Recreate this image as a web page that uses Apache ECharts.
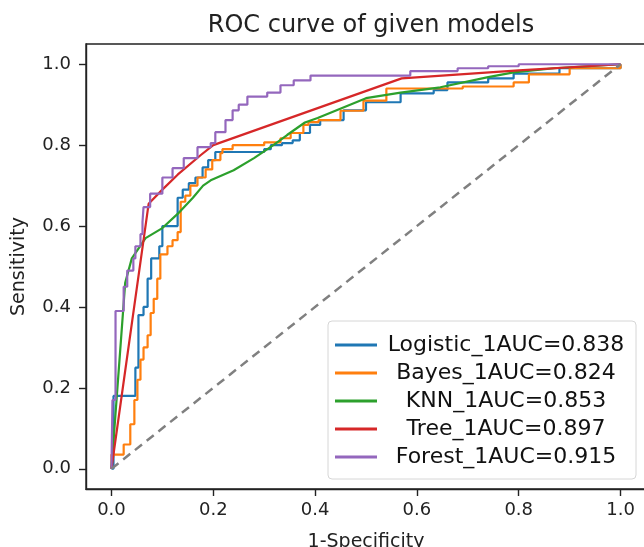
<!DOCTYPE html>
<html>
<head>
<meta charset="utf-8">
<script src="https://cdn.jsdelivr.net/npm/echarts@6/dist/echarts.min.js"></script>
<style>
  html, body { margin: 0; padding: 0; background: #fff; }
  #roc-chart { width: 644px; height: 547px; }
</style>
</head>
<body>
<div id="roc-chart"></div>
<script>
// model names and AUC shown in the legend
var models = ["Logistic_1", "Bayes_1", "KNN_1", "Tree_1", "Forest_1"];
var aucs = [0.838, 0.824, 0.853, 0.897, 0.915];
var tickValues = [0, 0.2, 0.4, 0.6, 0.8, 1.0];

// [fpr, tpr] points (staircases: top of each riser)
var logisticRoc = [
  [0, 0], [0.004, 0.18], [0.047, 0.25], [0.053, 0.38], [0.063, 0.40], [0.071, 0.47],
  [0.078, 0.52], [0.094, 0.55], [0.1, 0.6], [0.13, 0.67], [0.14, 0.69], [0.152, 0.706],
  [0.165, 0.72], [0.179, 0.745], [0.19, 0.763], [0.204, 0.783], [0.3, 0.79], [0.313, 0.80],
  [0.335, 0.805], [0.356, 0.812], [0.37, 0.83], [0.39, 0.85], [0.41, 0.862], [0.456, 0.886],
  [0.5, 0.906], [0.568, 0.928], [0.633, 0.936], [0.66, 0.955], [0.74, 0.965], [0.79, 0.977],
  [0.88, 0.99], [1, 1]
];
var bayesRoc = [
  [0, 0], [0, 0.035], [0.024, 0.06], [0.037, 0.11], [0.045, 0.17], [0.051, 0.22],
  [0.057, 0.27], [0.063, 0.30], [0.071, 0.33], [0.077, 0.385], [0.083, 0.42], [0.09, 0.47],
  [0.096, 0.53], [0.11, 0.55], [0.12, 0.565], [0.13, 0.585], [0.136, 0.66], [0.145, 0.675],
  [0.155, 0.70], [0.169, 0.72], [0.185, 0.74], [0.198, 0.763], [0.214, 0.78], [0.218, 0.79],
  [0.238, 0.80], [0.3, 0.807], [0.332, 0.817], [0.352, 0.83], [0.377, 0.85], [0.387, 0.857],
  [0.407, 0.862], [0.45, 0.885], [0.495, 0.91], [0.54, 0.94], [0.69, 0.945], [0.79, 0.955],
  [0.82, 0.975], [0.9, 0.99], [1, 1]
];
var knnRoc = [
  [0, 0], [0.027, 0.46], [0.04, 0.52], [0.067, 0.57], [0.1, 0.595], [0.13, 0.63],
  [0.16, 0.67], [0.18, 0.70], [0.195, 0.713], [0.24, 0.738], [0.28, 0.768], [0.318, 0.80],
  [0.345, 0.825], [0.38, 0.856], [0.405, 0.867], [0.5, 0.916], [0.568, 0.93], [0.646, 0.943],
  [0.74, 0.968], [0.79, 0.98], [0.87, 0.99], [1, 1]
];
var treeRoc = [
  [0, 0], [0.073, 0.655], [0.1, 0.69], [0.13, 0.727], [0.175, 0.775], [0.2, 0.8],
  [0.57, 0.965], [0.8, 0.985], [1, 1]
];
var forestRoc = [
  [0, 0], [0.002, 0.17], [0.008, 0.39], [0.024, 0.45], [0.031, 0.49], [0.043, 0.52],
  [0.047, 0.55], [0.057, 0.58], [0.061, 0.61], [0.063, 0.647], [0.076, 0.68], [0.1, 0.72],
  [0.12, 0.743], [0.142, 0.768], [0.169, 0.795], [0.195, 0.805], [0.204, 0.832], [0.224, 0.862],
  [0.238, 0.886], [0.25, 0.9], [0.267, 0.92], [0.306, 0.93], [0.332, 0.948], [0.358, 0.96],
  [0.391, 0.972], [0.587, 0.983], [0.68, 0.99], [0.74, 0.995], [0.8, 1.0], [1, 1]
];
var chanceLine = [[0, 0], [1, 1]];

var colors = ["#1f77b4", "#ff7f0e", "#2ca02c", "#d62728", "#9467bd"];
var curves = [logisticRoc, bayesRoc, knnRoc, treeRoc, forestRoc];
var stepped = [true, true, false, false, true];
var font = "DejaVu Sans";

var chart = echarts.init(document.getElementById("roc-chart"));

var series = curves.map(function (pts, i) {
  return {
    name: models[i],
    type: "line",
    data: pts,
    step: stepped[i] ? "end" : false,
    symbol: "none",
    color: colors[i],
    lineStyle: { width: 2.2, color: colors[i] },
    z: 2 + i,
  };
});
series.push({
  name: "chance",
  type: "line",
  data: chanceLine,
  symbol: "none",
  lineStyle: { width: 2.5, color: "#808080", type: [9, 6] },
  z: 10,
});

var option = {
  animation: false,
  backgroundColor: "#fff",
  title: {
    text: "ROC curve of given models",
    left: 366,
    top: 9,
    textAlign: "center",
    textStyle: { fontFamily: font, fontSize: 24, fontWeight: "normal", color: "#222" },
  },
  grid: {
    left: 86,
    top: 44,
    width: 560,
    height: 445,
    outerBoundsMode: "none",
    containLabel: false,
    show: true,
    borderColor: "#222",
    borderWidth: 1.4,
  },
  xAxis: {
    type: "value",
    min: -0.05,
    max: 1.05,
    name: "1-Specificity",
    nameLocation: "middle",
    nameGap: 44,
    nameTextStyle: { fontFamily: font, fontSize: 19, color: "#222" },
    splitLine: { show: false },
    axisLine: { onZero: false, lineStyle: { color: "#222", width: 1.4 } },
    axisTick: { customValues: tickValues, length: 7, lineStyle: { color: "#222", width: 1.4 } },
    axisLabel: {
      customValues: tickValues,
      margin: 12,
      fontFamily: font,
      fontSize: 18,
      color: "#222",
      formatter: function (v) { return v.toFixed(1); },
    },
  },
  yAxis: {
    type: "value",
    min: -0.05,
    max: 1.05,
    name: "Sensitivity",
    nameLocation: "middle",
    nameGap: 57,
    nameTextStyle: { fontFamily: font, fontSize: 19, color: "#222" },
    splitLine: { show: false },
    axisLine: { show: true, onZero: false, lineStyle: { color: "#222", width: 1.4 } },
    axisTick: { show: true, customValues: tickValues, length: 7, lineStyle: { color: "#222", width: 1.4 } },
    axisLabel: {
      customValues: tickValues,
      margin: 15,
      fontFamily: font,
      fontSize: 18,
      color: "#222",
      formatter: function (v) { return v.toFixed(1); },
    },
  },
  legend: {
    data: models,
    orient: "vertical",
    left: 328,
    top: 321,
    padding: [13, 6, 11, 7],
    itemGap: 6,
    itemWidth: 42,
    itemHeight: 3,
    icon: "rect",
    backgroundColor: "#fff",
    borderColor: "#d6d6d6",
    borderWidth: 1,
    borderRadius: 4,
    formatter: function (name) {
      return "{t|" + name + "AUC=" + aucs[models.indexOf(name)].toFixed(3) + "}";
    },
    textStyle: {
      fontFamily: font,
      rich: {
        t: { width: 248, align: "center", fontFamily: font, fontSize: 22, lineHeight: 28, color: "#111" },
      },
    },
  },
  series: series,
};

chart.setOption(option);
</script>
</body>
</html>
